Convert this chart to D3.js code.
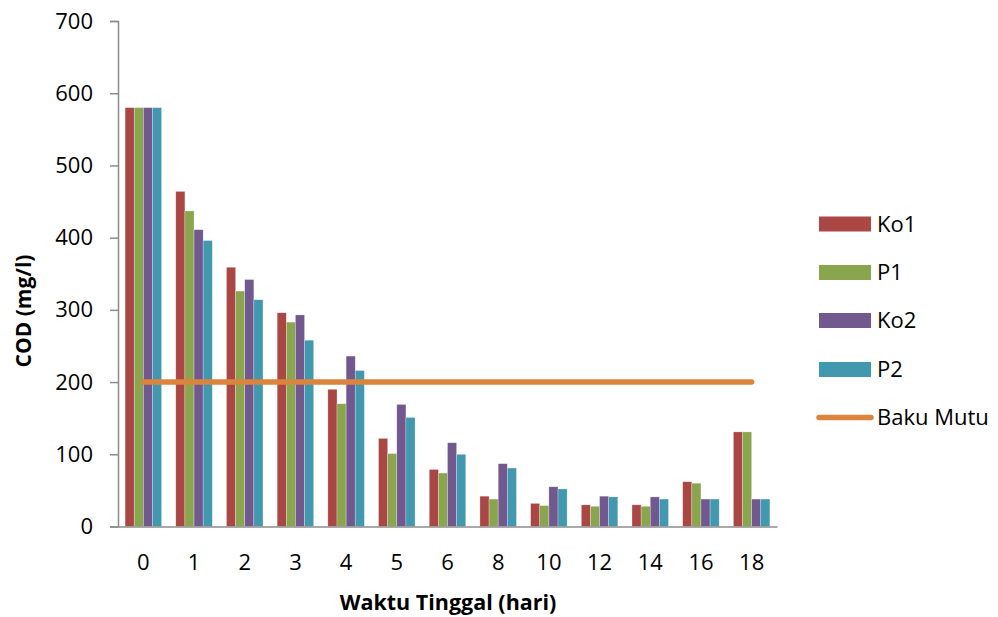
<!DOCTYPE html>
<html>
<head>
<meta charset="utf-8">
<script src="https://cdn.jsdelivr.net/npm/d3@7"></script>
<style>
  html, body { margin: 0; padding: 0; background: #fff; }
  svg { display: block; font-family: "Open Sans", "Noto Sans", sans-serif; }
</style>
</head>
<body>
<svg id="chart" width="998" height="617"></svg>
<script>
// Residence time (days) on the x axis
const categories = ["0", "1", "2", "3", "4", "5", "6", "8", "10", "12", "14", "16", "18"];

// COD (mg/l) per treatment
const ko1 = [580, 464, 359, 296, 190, 122, 79, 42, 32, 30, 30, 62, 131];
const p1  = [580, 437, 326, 283, 170, 101, 74, 38, 29, 28, 28, 60, 131];
const ko2 = [580, 411, 342, 293, 236, 169, 116, 87, 55, 42, 41, 38, 38];
const p2  = [580, 396, 314, 258, 216, 151, 100, 81, 52, 41, 38, 38, 38];

// Quality standard (baku mutu)
const bakuMutu = [200, 200, 200, 200, 200, 200, 200, 200, 200, 200, 200, 200, 200];

const yTicks = [0, 100, 200, 300, 400, 500, 600, 700];

const seriesNames = ["Ko1", "P1", "Ko2", "P2"];
const seriesValues = [ko1, p1, ko2, p2];
const colors = ["#AA4643", "#89A54E", "#71588F", "#4198AF"];
const lineColor = "#DB843D";

const svg = d3.select("#chart");
const m = { left: 118, right: 777, top: 21, bottom: 526.5 };

const x = d3.scaleBand().domain(categories).range([m.left, m.right]).paddingInner(0.28).paddingOuter(0.14);
const xs = d3.scaleBand().domain(seriesNames).range([0, x.bandwidth()]);
const y = d3.scaleLinear().domain([0, 700]).range([m.bottom, m.top]);

// Bars
seriesNames.forEach((name, si) => {
  svg.append("g")
    .selectAll("rect")
    .data(seriesValues[si].map((v, i) => ({ cat: categories[i], v })))
    .join("rect")
    .attr("x", d => x(d.cat) + xs(name))
    .attr("y", d => y(d.v))
    .attr("width", xs.bandwidth())
    .attr("height", d => y(0) - y(d.v))
    .attr("fill", colors[si])
    .attr("stroke", "#fff")
    .attr("stroke-opacity", 0.45)
    .attr("stroke-width", 0.6);
});

// Y axis
const yAxis = svg.append("g")
  .attr("transform", `translate(${m.left},0)`)
  .call(d3.axisLeft(y).tickValues(yTicks).tickSize(8).tickPadding(17).tickFormat(d3.format("d")));
yAxis.select(".domain").attr("stroke", "#8c8c8c").attr("stroke-width", 1.5);
yAxis.selectAll(".tick line").attr("stroke", "#8c8c8c").attr("stroke-width", 1.5);
yAxis.selectAll(".tick text").attr("font-size", 22).attr("fill", "#000").attr("font-family", "Open Sans, sans-serif");

// X axis
const xAxis = svg.append("g")
  .attr("transform", `translate(0,${m.bottom})`)
  .call(d3.axisBottom(x).tickSize(0));
xAxis.select(".domain").attr("stroke", "#8c8c8c").attr("stroke-width", 1.5);
xAxis.selectAll(".tick text")
  .attr("y", 43.5).attr("dy", 0)
  .attr("font-size", 22).attr("fill", "#000").attr("font-family", "Open Sans, sans-serif");

// Baku Mutu line
const line = d3.line()
  .x((d, i) => x(categories[i]) + x.bandwidth() / 2)
  .y(d => y(d));
svg.append("path")
  .datum(bakuMutu)
  .attr("d", line)
  .attr("fill", "none")
  .attr("stroke", lineColor)
  .attr("stroke-width", 5.5)
  .attr("stroke-linecap", "round");

// Axis titles
svg.append("text")
  .attr("x", 448).attr("y", 610)
  .attr("text-anchor", "middle")
  .attr("font-size", 21.5).attr("font-weight", "bold")
  .text("Waktu Tinggal (hari)");

svg.append("text")
  .attr("transform", "translate(31,311) rotate(-90)")
  .attr("text-anchor", "middle")
  .attr("font-size", 21).attr("font-weight", "bold")
  .text("COD (mg/l)");

// Legend
const legend = svg.append("g");
const legendY = [224, 272.5, 320.5, 369.5];
seriesNames.forEach((name, i) => {
  legend.append("rect")
    .attr("x", 819).attr("y", legendY[i] - 7.5)
    .attr("width", 52).attr("height", 15)
    .attr("fill", colors[i]);
  legend.append("text")
    .attr("x", 877).attr("y", legendY[i])
    .attr("dy", "0.35em")
    .attr("font-size", 22)
    .text(name);
});
legend.append("line")
  .attr("x1", 819).attr("x2", 871)
  .attr("y1", 417.5).attr("y2", 417.5)
  .attr("stroke", lineColor).attr("stroke-width", 5.5)
  .attr("stroke-linecap", "round");
legend.append("text")
  .attr("x", 877).attr("y", 417.5)
  .attr("dy", "0.35em")
  .attr("font-size", 22)
  .text("Baku Mutu");
</script>
</body>
</html>
